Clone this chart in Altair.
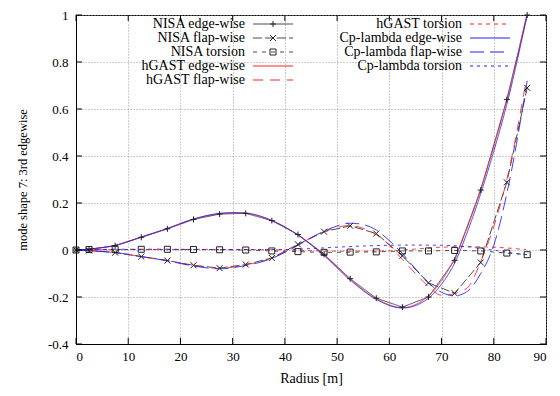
import altair as alt
import pandas as pd

# ---------------- data ----------------
r_nisa = [0, 2.5, 7.5, 12.5, 17.5, 22.5, 27.5, 32.5, 37.5, 42.5, 47.5, 52.5,
          57.5, 62.5, 67.5, 72.5, 77.5, 82.5, 86.4]
nisa_edge = [0, 0.003, 0.018, 0.054, 0.09, 0.13, 0.153, 0.156, 0.125, 0.066,
             -0.018, -0.122, -0.205, -0.243, -0.2, -0.044, 0.255, 0.64, 1.0]
nisa_flap = [0, -0.002, -0.011, -0.028, -0.045, -0.065, -0.077, -0.062, -0.034,
             0.024, 0.078, 0.103, 0.07, -0.025, -0.14, -0.184, -0.053, 0.288, 0.69]
nisa_tors = [0, 0.002, 0.003, 0.003, 0.003, 0.002, 0.001, 0.0, -0.004, -0.007,
             -0.01, -0.009, -0.008, -0.004, -0.004, -0.002, -0.004, -0.013, -0.02]

r_hg_edge = [0, 2.5, 7.5, 12.5, 17.5, 22.5, 27.5, 30, 32.5, 37.5, 42.5, 47.5,
             52.5, 57.5, 62.5, 67.5, 70, 72.5, 75, 77.5, 80, 82.5, 86.2]
hg_edge = [0, 0.004, 0.02, 0.055, 0.091, 0.131, 0.154, 0.158, 0.156, 0.124,
           0.064, -0.02, -0.124, -0.207, -0.245, -0.195, -0.13, -0.035, 0.1,
           0.26, 0.44, 0.64, 0.99]
r_cp_edge = [0, 2.5, 7.5, 12.5, 17.5, 22.5, 27.5, 30, 32.5, 37.5, 42.5, 47.5,
             52.5, 57.5, 62.5, 67.5, 70, 72.5, 75, 77.5, 80, 82.5, 86.4]
cp_edge = [0, 0.004, 0.02, 0.055, 0.092, 0.132, 0.156, 0.159, 0.157, 0.126,
           0.063, -0.024, -0.128, -0.21, -0.247, -0.205, -0.145, -0.056, 0.08,
           0.24, 0.42, 0.62, 1.0]

r_hg_flap = [0, 2.5, 7.5, 12.5, 17.5, 22.5, 27.5, 32.5, 37.5, 40, 42.5, 47.5,
             52.5, 55, 57.5, 60, 62.5, 65, 67.5, 70, 72.5, 75, 77.5, 80, 82.5, 86.2]
hg_flap = [0, -0.003, -0.011, -0.028, -0.045, -0.066, -0.078, -0.063, -0.034,
           -0.008, 0.022, 0.078, 0.104, 0.092, 0.065, 0.02, -0.04, -0.1, -0.155,
           -0.193, -0.185, -0.16, -0.05, 0.1, 0.3, 0.72]
r_cp_flap = [0, 2.5, 7.5, 12.5, 17.5, 22.5, 27.5, 32.5, 37.5, 40, 42.5, 47.5,
             52.5, 55, 57.5, 60, 62.5, 65, 67.5, 70, 72.5, 75, 77.5, 80, 82.5, 86.4]
cp_flap = [0, -0.003, -0.011, -0.028, -0.046, -0.068, -0.08, -0.066, -0.036,
           -0.01, 0.02, 0.08, 0.114, 0.108, 0.085, 0.04, -0.015, -0.08, -0.14,
           -0.18, -0.195, -0.175, -0.1, 0.02, 0.24, 0.72]

r_hg_tors = [0, 10, 20, 30, 40, 45, 50, 55, 60, 65, 70, 75, 80, 84, 86.2]
hg_tors = [0, 0.002, 0.003, 0.002, 0, -0.003, -0.005, -0.005, -0.004, 0.004,
           0.012, 0.014, 0.012, 0.006, 0.002]
r_cp_tors = [0, 10, 20, 30, 40, 45, 50, 55, 60, 65, 70, 75, 78, 81, 84, 86.4]
cp_tors = [0, 0.002, 0.002, 0.002, 0.002, 0.006, 0.012, 0.017, 0.02, 0.021,
           0.02, 0.014, 0.005, -0.004, -0.014, -0.02]

series_names = ["NISA edge-wise", "NISA flap-wise", "NISA torsion",
                "hGAST edge-wise", "hGAST flap-wise", "hGAST torsion",
                "Cp-lambda edge-wise", "Cp-lambda flap-wise", "Cp-lambda torsion"]
x_ticks = [0, 10, 20, 30, 40, 50, 60, 70, 80, 90]
y_ticks = [-0.4, -0.2, 0, 0.2, 0.4, 0.6, 0.8, 1]

# ---------------- styles ----------------
colors = ["#4d4d4d", "#4d4d4d", "#4d4d4d",
          "#ff2020", "#ff2020", "#ff2020",
          "#1f1fff", "#1f1fff", "#1f1fff"]
dashes = [[1, 0], [9, 3], [4, 5], [1, 0], [10, 7], [4, 4], [1, 0], [14, 6], [3, 4]]
widths = [1, 1, 1, 1.4, 1.4, 1.4, 1.4, 1.4, 1.4]
PLUS = "M-1,0H1M0,-1V1"
CROSS = "M-1,-1L1,1M-1,1L1,-1"
FONT = "Liberation Serif"
W, H = 470, 329

rows = []
def add(name, rs, vs):
    for r, v in zip(rs, vs):
        rows.append({"series": name, "model": name.split()[0], "r": r, "v": v})

add("NISA edge-wise", r_nisa, nisa_edge)
add("NISA flap-wise", r_nisa, nisa_flap)
add("NISA torsion", r_nisa, nisa_tors)
add("hGAST edge-wise", r_hg_edge, hg_edge)
add("hGAST flap-wise", r_hg_flap, hg_flap)
add("hGAST torsion", r_hg_tors, hg_tors)
add("Cp-lambda edge-wise", r_cp_edge, cp_edge)
add("Cp-lambda flap-wise", r_cp_flap, cp_flap)
add("Cp-lambda torsion", r_cp_tors, cp_tors)
df = pd.DataFrame(rows)

leg = pd.DataFrame({"series": series_names, "idx": list(range(len(series_names)))})
xt = pd.DataFrame({"r": x_ticks})
yt = pd.DataFrame({"v": y_ticks})

xscale = alt.Scale(domain=[0, 90], nice=False)
yscale = alt.Scale(domain=[-0.4, 1], nice=False)
X = alt.X("r:Q", scale=xscale, title="Radius [m]",
          axis=alt.Axis(values=x_ticks, title="Radius [m]"))
Y = alt.Y("v:Q", scale=yscale, title="mode shape 7: 3rd edgewise",
          axis=alt.Axis(values=y_ticks, title="mode shape 7: 3rd edgewise",
                        labelExpr="'' + round(datum.value * 10) / 10"))
C = alt.Color("series:N", scale=alt.Scale(domain=series_names, range=colors), legend=None)
D = alt.StrokeDash("series:N", scale=alt.Scale(domain=series_names, range=dashes), legend=None)
SW = alt.StrokeWidth("series:N", scale=alt.Scale(domain=series_names, range=widths), legend=None)
SH = alt.Shape("series:N", scale=alt.Scale(domain=series_names[:3], range=[PLUS, CROSS, "square"]),
               legend=None)

base = alt.Chart(df)
nisa_lines = base.transform_filter("datum.model == 'NISA'").mark_line(
    interpolate="linear").encode(x=X, y=Y, color=C, strokeDash=D, strokeWidth=SW,
                                 detail="series:N")
hg_lines = base.transform_filter("datum.model == 'hGAST'").mark_line(
    interpolate="monotone", opacity=0.85).encode(x=X, y=Y, color=C, strokeDash=D,
                                                 strokeWidth=SW, detail="series:N")
cp_lines = base.transform_filter("datum.model == 'Cp-lambda'").mark_line(
    interpolate="monotone", opacity=0.85).encode(x=X, y=Y, color=C, strokeDash=D,
                                                 strokeWidth=SW, detail="series:N")
nisa_pts = base.transform_filter("datum.model == 'NISA'").mark_point(
    filled=False, strokeWidth=1, opacity=1, size=36, color="#222222").encode(
    x=X, y=Y, shape=SH)

# inward ticks on all four sides (share the main scales and axes)
tick_style = dict(color="black", strokeWidth=1)
tb = alt.Chart(xt).mark_rule(**tick_style).encode(x=X, y=alt.value(H), y2=alt.value(H - 6))
tt = alt.Chart(xt).mark_rule(**tick_style).encode(x=X, y=alt.value(0), y2=alt.value(6))
tl = alt.Chart(yt).mark_rule(**tick_style).encode(y=Y, x=alt.value(0), x2=alt.value(6))
tr = alt.Chart(yt).mark_rule(**tick_style).encode(y=Y, x=alt.value(W), x2=alt.value(W - 6))

# legend (gnuplot style: label right-aligned, key sample on the right)
lbase = alt.Chart(leg).transform_calculate(
    col="datum.idx < 5 ? 0 : 1",
    row="datum.idx < 5 ? datum.idx : datum.idx - 5",
).transform_calculate(
    lx="datum.col == 0 ? 169 : 386",
    kx1="datum.col == 0 ? 177 : 394",
    ky="9 + 14 * datum.row",
).transform_calculate(
    kx2="datum.kx1 + 40",
    km="datum.kx1 + 20",
)
leg_text = lbase.mark_text(align="right", baseline="middle", font=FONT, fontSize=14,
                           color="black").encode(
    x=alt.X("lx:Q", scale=None), y=alt.Y("ky:Q", scale=None), text="series:N")
leg_line = lbase.mark_rule().encode(
    x=alt.X("kx1:Q", scale=None), x2="kx2:Q", y=alt.Y("ky:Q", scale=None),
    color=C, strokeDash=D, strokeWidth=SW)
leg_pts = lbase.transform_filter("datum.idx < 3").mark_point(
    filled=False, strokeWidth=1, opacity=1, size=36, color="#222222").encode(
    x=alt.X("km:Q", scale=None), y=alt.Y("ky:Q", scale=None), shape=SH)

chart = alt.layer(
    nisa_lines, hg_lines, cp_lines, nisa_pts, tb, tt, tl, tr,
    leg_line, leg_pts, leg_text
).properties(
    width=W, height=H,
    autosize=alt.AutoSizeParams(type="none"),
    padding={"left": 68, "top": 7, "right": 6, "bottom": 44},
).configure_view(
    stroke="black", strokeWidth=1
).configure_axis(
    domainColor="black", domainWidth=1, ticks=False,
    grid=True, gridColor="#9a9a9a", gridDash=[1, 2], gridWidth=1,
    labelFont=FONT, labelFontSize=13, labelColor="black",
    titleFont=FONT, titleFontSize=14, titleColor="black", titleFontWeight="normal",
).configure_axisX(
    labelPadding=6, titlePadding=8
).configure_axisY(
    labelPadding=8, titlePadding=18, titleFontSize=12.5
)

chart.save("out.html", embed_options={"renderer": "svg", "actions": False})
